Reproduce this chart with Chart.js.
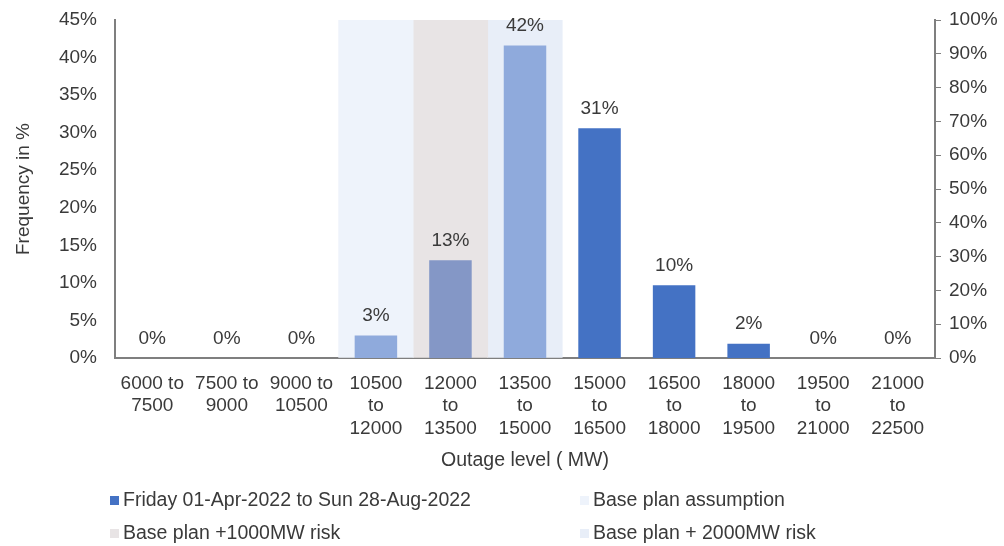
<!DOCTYPE html>
<html>
<head>
<meta charset="utf-8">
<script src="https://cdn.jsdelivr.net/npm/chart.js@4.4.1/dist/chart.umd.min.js"></script>
<style>
  html, body { margin: 0; padding: 0; background: #ffffff; }
  #wrap { width: 1004px; height: 546px; position: relative; }
</style>
</head>
<body>
<div id="wrap"><canvas id="c" width="1004" height="546"></canvas></div>
<script>
// ---- data ----
const categories = [
  ["6000 to", "7500"], ["7500 to", "9000"], ["9000 to", "10500"],
  ["10500", "to", "12000"], ["12000", "to", "13500"], ["13500", "to", "15000"],
  ["15000", "to", "16500"], ["16500", "to", "18000"], ["18000", "to", "19500"],
  ["19500", "to", "21000"], ["21000", "to", "22500"]
];
const frequency = [0, 0, 0, 3.0, 13.0, 41.6, 30.6, 9.7, 1.9, 0, 0];
const baseAssumption = [null, null, null, 100, null, null, null, null, null, null, null];
const risk1000 = [null, null, null, null, 100, null, null, null, null, null, null];
const risk2000 = [null, null, null, null, null, 100, null, null, null, null, null];
const leftMax = 45, leftStep = 5;
const rightMax = 100, rightStep = 10;
const seriesNames = [
  "Friday 01-Apr-2022 to Sun 28-Aug-2022",
  "Base plan assumption",
  "Base plan +1000MW risk",
  "Base plan + 2000MW risk"
];

// ---- styles ----
const barColors = ["#4472C4", "#4472C4", "#4472C4", "#8FAADC", "#8497C6", "#8FAADC",
                   "#4472C4", "#4472C4", "#4472C4", "#4472C4", "#4472C4"];
const bandColors = ["#EEF3FB", "#E8E4E5", "#E8EEF8"];
const FONT = "'Liberation Sans', Arial, sans-serif";
const TXT = "#3A3A3A";
const AXIS = "#7F7F7F";

const labelPlugin = {
  id: "barLabels",
  afterDatasetsDraw(chart) {
    const ctx = chart.ctx;
    const meta = chart.getDatasetMeta(0);
    ctx.save();
    ctx.font = "19px " + FONT;
    ctx.fillStyle = TXT;
    ctx.textAlign = "center";
    ctx.textBaseline = "bottom";
    meta.data.forEach((el, i) => {
      const v = chart.data.datasets[0].data[i];
      ctx.fillText(Math.round(v) + "%", el.x, el.y - 10);
    });
    ctx.restore();
  }
};

const legendPlugin = {
  id: "gridLegend",
  afterDraw(chart) {
    const ctx = chart.ctx;
    const cols = [110, 580];
    const rows = [501, 534];
    const sw = ["#4472C4", bandColors[0], bandColors[1], bandColors[2]];
    ctx.save();
    ctx.font = "19.5px " + FONT;
    ctx.textBaseline = "middle";
    ctx.textAlign = "left";
    chart.data.datasets.forEach((ds, i) => {
      const x = cols[i % 2], y = rows[Math.floor(i / 2)];
      ctx.fillStyle = sw[i];
      ctx.fillRect(x, y - 5, 9, 9);
      ctx.fillStyle = TXT;
      ctx.fillText(ds.label, x + 13, y);
    });
    ctx.restore();
  }
};

new Chart(document.getElementById("c"), {
  type: "bar",
  data: {
    labels: categories,
    datasets: [
      { label: seriesNames[0], data: frequency, yAxisID: "y", backgroundColor: barColors,
        grouped: false, barPercentage: 0.57, categoryPercentage: 1, order: 0 },
      { label: seriesNames[1], data: baseAssumption, yAxisID: "y2", backgroundColor: bandColors[0],
        grouped: false, barPercentage: 1, categoryPercentage: 1, order: 1 },
      { label: seriesNames[2], data: risk1000, yAxisID: "y2", backgroundColor: bandColors[1],
        grouped: false, barPercentage: 1, categoryPercentage: 1, order: 1 },
      { label: seriesNames[3], data: risk2000, yAxisID: "y2", backgroundColor: bandColors[2],
        grouped: false, barPercentage: 1, categoryPercentage: 1, order: 1 }
    ]
  },
  options: {
    responsive: false,
    animation: false,
    events: [],
    layout: { padding: { top: 20, left: 0, right: 0, bottom: 68 } },
    plugins: { legend: { display: false }, tooltip: { enabled: false } },
    scales: {
      x: {
        grid: { display: false, drawTicks: false },
        border: { display: true, color: AXIS, width: 2 },
        ticks: { autoSkip: false, maxRotation: 0, minRotation: 0, color: TXT,
                 font: { family: FONT, size: 19, lineHeight: 1.19 }, padding: 14 },
        title: { display: true, text: "Outage level ( MW)", color: TXT,
                 font: { family: FONT, size: 19.5 }, padding: { top: 4, bottom: 6 } },
        afterFit(s) { s.height = 120; }
      },
      y: {
        position: "left", min: 0, max: leftMax,
        grid: { display: false, drawTicks: true, tickLength: 16 },
        border: { display: true, color: AXIS, width: 2 },
        ticks: { stepSize: leftStep, color: TXT, padding: 2,
                 font: { family: FONT, size: 19 }, callback: v => v + "%" },
        title: { display: true, text: "Frequency in %", color: TXT,
                 font: { family: FONT, size: 19 }, padding: { top: 12, bottom: 10 } },
        afterFit(s) { s.width = 115; }
      },
      y2: {
        position: "right", min: 0, max: rightMax,
        grid: { display: true, drawOnChartArea: false, drawTicks: true, tickLength: 6, color: AXIS, tickColor: AXIS },
        border: { display: true, color: AXIS, width: 2 },
        ticks: { stepSize: rightStep, color: TXT, padding: 8,
                 font: { family: FONT, size: 19 }, callback: v => v + "%" },
        afterFit(s) { s.width = 69; }
      }
    }
  },
  plugins: [labelPlugin, legendPlugin]
});
</script>
</body>
</html>
